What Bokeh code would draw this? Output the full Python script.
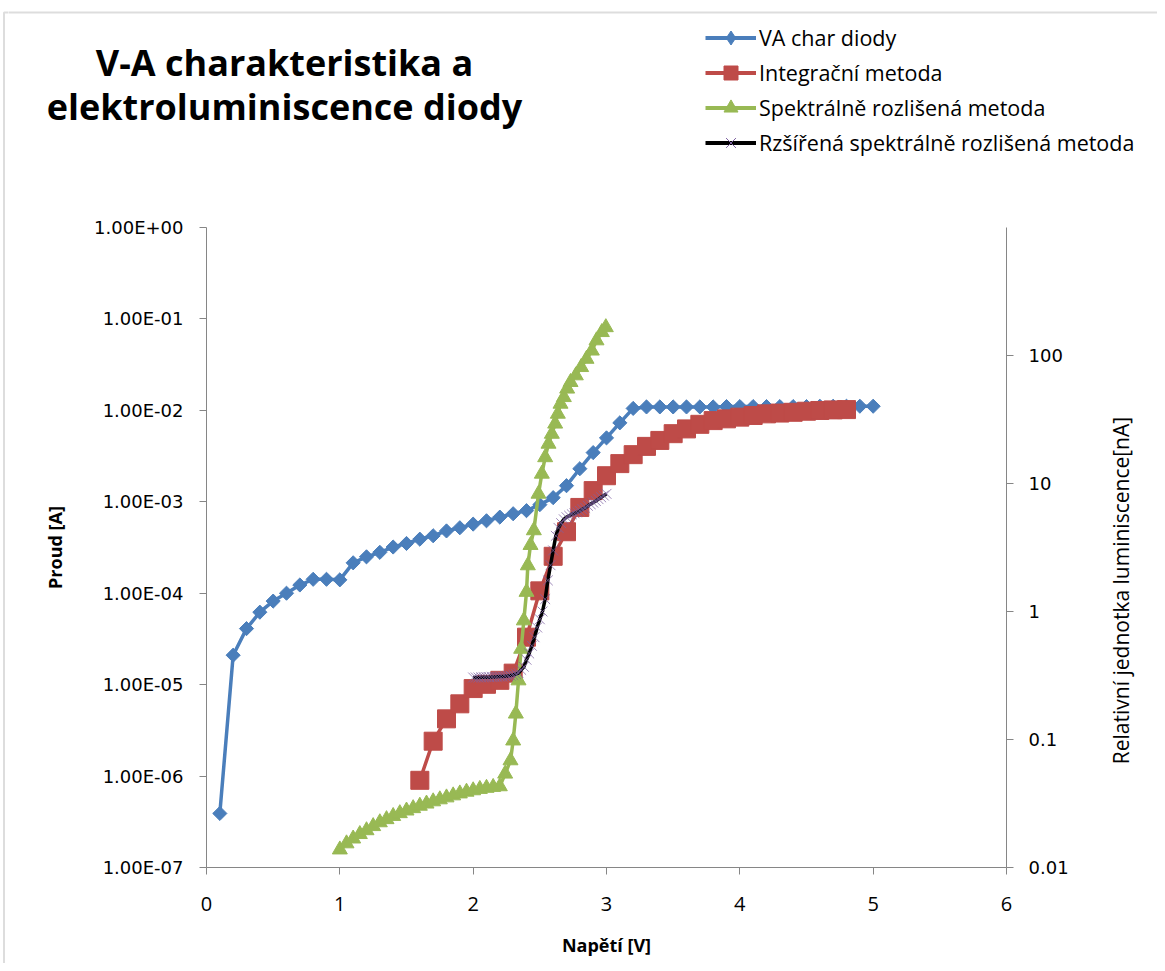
from math import pi
from bokeh.plotting import figure
from bokeh.layouts import row, column
from bokeh.models import (LogAxis, Range1d, FixedTicker, CustomJSTickFormatter, Legend,
                          LegendItem, Label, BoxAnnotation, LogScale)
from bokeh.embed import file_html
from bokeh.resources import INLINE

# ---------------- data ----------------
TITLE_LINES = ["V-A charakteristika a", "elektroluminiscence diody"]
X_LABEL = "Napětí [V]"
Y_LABEL = "Proud [A]"
Y2_LABEL = "Relativní jednotka luminiscence[nA]"
SERIES_NAMES = ["VA char diody", "Integrační metoda", "Spektrálně rozlišená metoda",
                "Rzšířená spektrálně rozlišená metoda"]

X_TICKS = [0, 1, 2, 3, 4, 5, 6]
Y_TICKS = [1e-7, 1e-6, 1e-5, 1e-4, 1e-3, 1e-2, 1e-1, 1e0]
Y2_TICKS = [0.01, 0.1, 1, 10, 100]
Y2_TICK_LABELS = ["0.01", "0.1", "1", "10", "100"]

va_x = [0.1, 0.2, 0.3, 0.4, 0.5, 0.6, 0.7, 0.8, 0.9, 1.0,
        1.1, 1.2, 1.3, 1.4, 1.5, 1.6, 1.7, 1.8, 1.9, 2.0,
        2.1, 2.2, 2.3, 2.4, 2.5, 2.6, 2.7, 2.8, 2.9, 3.0,
        3.1, 3.2, 3.3, 3.4, 3.5, 3.6, 3.7, 3.8, 3.9, 4.0,
        4.1, 4.2, 4.3, 4.4, 4.5, 4.6, 4.7, 4.8, 4.9, 5.0]
va_y = [3.9e-7, 2.1e-5, 4.1e-5, 6.2e-5, 8.2e-5, 1.0e-4, 1.23e-4, 1.42e-4, 1.42e-4, 1.40e-4,
        2.15e-4, 2.5e-4, 2.8e-4, 3.2e-4, 3.5e-4, 3.9e-4, 4.25e-4, 4.8e-4, 5.2e-4, 5.7e-4,
        6.2e-4, 6.8e-4, 7.4e-4, 8.0e-4, 9.3e-4, 1.11e-3, 1.5e-3, 2.3e-3, 3.45e-3, 5.0e-3,
        7.3e-3, 1.05e-2, 1.09e-2, 1.09e-2, 1.09e-2, 1.09e-2, 1.09e-2, 1.09e-2, 1.1e-2, 1.1e-2,
        1.1e-2, 1.1e-2, 1.1e-2, 1.1e-2, 1.1e-2, 1.11e-2, 1.11e-2, 1.11e-2, 1.11e-2, 1.11e-2]

int_x = [1.6, 1.7, 1.8, 1.9, 2.0, 2.1, 2.2, 2.3, 2.4, 2.5, 2.6, 2.7, 2.8, 2.9, 3.0, 3.1, 3.2,
         3.3, 3.4, 3.5, 3.6, 3.7, 3.8, 3.9, 4.0, 4.1, 4.2, 4.3, 4.4, 4.5, 4.6, 4.7, 4.8]
int_y = [0.048, 0.097, 0.145, 0.19, 0.25, 0.27, 0.29, 0.33, 0.63, 1.45, 2.7, 4.2, 6.5, 8.8,
         11.5, 14.3, 16.8, 19.5, 21.7, 24.5, 26.7, 29.0, 31.0, 32.0, 33.0, 34.0, 35.0, 35.5,
         36.0, 36.7, 37.2, 37.6, 37.8]

spec_x = [1.00, 1.05, 1.10, 1.15, 1.20, 1.25, 1.30, 1.35, 1.40, 1.45, 1.50, 1.55, 1.60,
          1.65, 1.70, 1.75, 1.80, 1.85, 1.90, 1.95, 2.00, 2.05, 2.10, 2.15, 2.20,
          2.24, 2.28, 2.30, 2.32, 2.34, 2.36, 2.38, 2.40, 2.41, 2.43, 2.455, 2.49, 2.515,
          2.54, 2.565, 2.59, 2.615, 2.635, 2.655, 2.68, 2.705, 2.73, 2.77, 2.81, 2.85,
          2.89, 2.925, 2.965, 2.995]
spec_y = [0.0138, 0.0154, 0.0168, 0.0182, 0.0195, 0.0210, 0.0225, 0.0238, 0.0252, 0.0265,
          0.0278, 0.0290, 0.0303, 0.0315, 0.0328, 0.0340, 0.0352, 0.0365, 0.0378, 0.0390,
          0.0400, 0.0410, 0.0418, 0.0425, 0.0430,
          0.054, 0.0686, 0.098, 0.159, 0.289, 0.51, 0.85, 1.42, 2.29, 3.3, 4.3, 8.3, 11.9,
          16.0, 20.4, 24.4, 29.3, 35.0, 41.9, 47.2, 55.0, 61.9, 69.8, 81.0, 94.0,
          109.0, 131.0, 152.0, 166.0]

ext_x = [2.00, 2.02, 2.04, 2.06, 2.08, 2.10, 2.12, 2.14, 2.16, 2.18, 2.20, 2.22, 2.24,
         2.26, 2.28, 2.30, 2.32, 2.34, 2.36, 2.38, 2.40, 2.42, 2.44, 2.46, 2.48, 2.50,
         2.52, 2.54, 2.56, 2.58, 2.60, 2.62, 2.64, 2.66, 2.68, 2.70, 2.72, 2.74, 2.76,
         2.78, 2.80, 2.82, 2.84, 2.86, 2.88, 2.90, 2.92, 2.94, 2.96, 2.98, 3.00]
ext_y = [0.305, 0.305, 0.305, 0.306, 0.306, 0.307, 0.307, 0.308, 0.308, 0.309, 0.31, 0.31,
         0.312, 0.314, 0.316, 0.32, 0.325, 0.33, 0.35, 0.37, 0.42, 0.47, 0.54, 0.63, 0.75,
         0.87, 1.0, 1.25, 1.75, 2.3, 3.0, 3.9, 4.5, 4.9, 5.25, 5.45, 5.6, 5.75, 5.85, 5.95,
         6.1, 6.3, 6.45, 6.7, 6.9, 7.1, 7.3, 7.55, 7.8, 8.05, 8.3]

BLUE = "#4A7EBB"
RED = "#BE4B48"
GREEN = "#98B954"
PURPLE = "#7E62A1"
AXIS = "#868686"
BORDER = "#8e8e8e"

# page layout (pixels): left strip | [top strip / (main plot | right strip)]
PAGE_H = 963
TOP_H = 212
LEFT_W = 8
MAIN_W = 1087
RIGHT_W = 62
TOP_W = MAIN_W + RIGHT_W
MAIN_H = PAGE_H - TOP_H


def bare(width, height, x0, x1, y0, y1):
    f = figure(width=width, height=height, output_backend="svg", toolbar_location=None,
               x_range=Range1d(x0, x1), y_range=Range1d(y1, y0),
               min_border=0, min_border_left=0, min_border_right=0,
               min_border_top=0, min_border_bottom=0,
               x_axis_location=None, y_axis_location=None)
    f.grid.visible = False
    f.outline_line_color = None
    f.background_fill_color = "white"
    f.border_fill_color = "white"
    return f


# ---------------- left strip (chart border) ----------------
ls = bare(LEFT_W, PAGE_H, 0, LEFT_W, 0, PAGE_H)
ls.add_layout(BoxAnnotation(left=3.5, right=3000, top=12, bottom=3000,
                            fill_color=None, line_color=BORDER, line_width=2))

# ---------------- main plot ----------------
p = figure(width=MAIN_W, height=MAIN_H, output_backend="svg", toolbar_location=None,
           x_range=Range1d(0, 6), y_range=Range1d(1e-7, 1), y_axis_type="log",
           min_border_left=198, min_border_right=89, min_border_top=15, min_border_bottom=96)
p.extra_y_ranges = {"lum": Range1d(0.01, 1000)}
p.extra_y_scales = {"lum": LogScale()}
p.grid.visible = False
p.outline_line_color = None
p.background_fill_color = "white"
p.border_fill_color = "white"

ya = p.yaxis[0]
ya.ticker = FixedTicker(ticks=Y_TICKS)
ya.formatter = CustomJSTickFormatter(code="""
const e = Math.round(Math.log10(tick));
const s = e < 0 ? '-' : '+';
const a = Math.abs(e);
return '1.00E' + s + (a < 10 ? '0' : '') + a;
""")
ya.axis_label = Y_LABEL

ra = LogAxis(y_range_name="lum", ticker=FixedTicker(ticks=Y2_TICKS))
ra.formatter = CustomJSTickFormatter(args=dict(tk=Y2_TICKS, lb=Y2_TICK_LABELS), code="""
for (let i = 0; i < tk.length; i++) {
  if (Math.abs(Math.log10(tk[i]) - Math.log10(tick)) < 1e-6) return lb[i];
}
return '';
""")
p.add_layout(ra, "right")

xa = p.xaxis[0]
xa.ticker = FixedTicker(ticks=X_TICKS)
xa.axis_label = X_LABEL

for ax in (ya, ra, xa):
    ax.axis_line_color = AXIS
    ax.axis_line_width = 1
    ax.major_tick_line_color = AXIS
    ax.major_tick_out = 7
    ax.major_tick_in = 0
    ax.minor_tick_line_color = None
    ax.major_label_text_color = "black"

for ax in (ya, ra):
    ax.major_label_text_font = "DejaVu Sans"
    ax.major_label_text_font_size = "18px"
ya.major_label_standoff = 16
ra.major_label_standoff = 15
xa.major_label_text_font = "Open Sans"
xa.major_label_text_font_size = "20px"
xa.major_label_standoff = 22

for ax in (ya, xa):
    ax.axis_label_text_font = "Open Sans"
    ax.axis_label_text_font_style = "bold"
    ax.axis_label_text_font_size = "18px"
    ax.axis_label_text_color = "black"
ya.axis_label_standoff = 24
xa.axis_label_standoff = 19

l1 = p.line(va_x, va_y, line_color=BLUE, line_width=3.5)
s1 = p.scatter(va_x, va_y, marker="square", angle=pi / 4, size=10,
               fill_color=BLUE, line_color=BLUE)
l2 = p.line(int_x, int_y, line_color=RED, line_width=3.5, y_range_name="lum")
s2 = p.scatter(int_x, int_y, marker="square", size=18, fill_color=RED, line_color=RED,
               y_range_name="lum")
l3 = p.line(spec_x, spec_y, line_color=GREEN, line_width=3.5, y_range_name="lum")
s3 = p.scatter(spec_x, spec_y, marker="triangle", size=15, fill_color=GREEN,
               line_color=GREEN, y_range_name="lum")
l4 = p.line(ext_x, ext_y, line_color="black", line_width=3.5, y_range_name="lum")
s4 = p.scatter(ext_x, ext_y, marker="x", size=14, line_color=PURPLE, line_width=1,
               line_alpha=0.75, y_range_name="lum")

# ---------------- right strip (secondary axis title) ----------------
rs = bare(RIGHT_W, MAIN_H, LEFT_W + MAIN_W, LEFT_W + MAIN_W + RIGHT_W, TOP_H, PAGE_H)
rs.add_layout(Label(x=1120, y=638, text=Y2_LABEL, angle=pi / 2,
                    text_align="center", text_baseline="middle",
                    text_font="Open Sans", text_font_size="21px", text_color="black"))

# ---------------- top strip (title, legend, border) ----------------
t = bare(TOP_W, TOP_H, LEFT_W, LEFT_W + TOP_W, 0, TOP_H)
t.add_layout(BoxAnnotation(left=3.5, right=3000, top=12, bottom=3000,
                           fill_color=None, line_color=BORDER, line_width=2))
for txt, yy in ((TITLE_LINES[0], 62), (TITLE_LINES[1], 106)):
    t.add_layout(Label(x=284, y=yy, text=txt, text_align="center", text_baseline="middle",
                       text_font="Open Sans", text_font_style="bold",
                       text_font_size="36px", text_color="black"))

# legend keys: same styles as the series; their single point lies off the strip's view
OFF = [-500]
k1 = [t.line(OFF, OFF, line_color=BLUE, line_width=4),
      t.scatter(OFF, OFF, marker="diamond", size=14, fill_color=BLUE, line_color=BLUE)]
k2 = [t.line(OFF, OFF, line_color=RED, line_width=4),
      t.scatter(OFF, OFF, marker="square", size=14, fill_color=RED, line_color=RED)]
k3 = [t.line(OFF, OFF, line_color=GREEN, line_width=4),
      t.scatter(OFF, OFF, marker="triangle", size=12, fill_color=GREEN, line_color=GREEN)]
k4 = [t.line(OFF, OFF, line_color="black", line_width=4),
      t.scatter(OFF, OFF, marker="x", size=13, line_color=PURPLE, line_width=1)]

legend = Legend(items=[LegendItem(label=SERIES_NAMES[0], renderers=k1),
                       LegendItem(label=SERIES_NAMES[1], renderers=k2),
                       LegendItem(label=SERIES_NAMES[2], renderers=k3),
                       LegendItem(label=SERIES_NAMES[3], renderers=k4)],
                location=(697, 52), orientation="vertical",
                glyph_width=51, glyph_height=35, label_height=35, spacing=0,
                padding=0, margin=0, label_standoff=3,
                label_text_font="Open Sans", label_text_font_size="21.5px",
                label_text_color="black", border_line_color=None,
                background_fill_alpha=0)
t.add_layout(legend, "center")

layout = row(ls, column(t, row(p, rs)))
open("out.html", "w").write(file_html(layout, INLINE))
